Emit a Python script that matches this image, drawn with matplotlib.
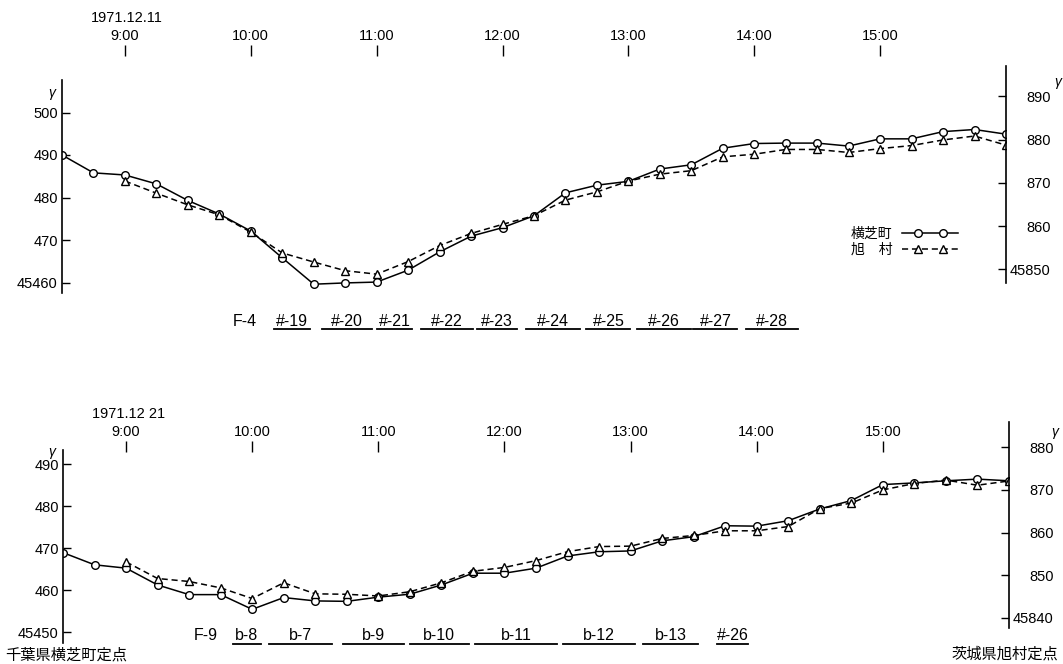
import matplotlib.pyplot as plt
import matplotlib.transforms as mtransforms
from matplotlib.lines import Line2D
from matplotlib.legend_handler import HandlerLine2D, HandlerTuple

plt.rcParams["font.family"] = ["Liberation Sans", "Noto Sans CJK JP"]

W, H = 1063, 664

# observation times (every 15 min)
times = ["8:30", "8:45", "9:00", "9:15", "9:30", "9:45", "10:00", "10:15",
         "10:30", "10:45", "11:00", "11:15", "11:30", "11:45", "12:00", "12:15",
         "12:30", "12:45", "13:00", "13:15", "13:30", "13:45", "14:00", "14:15",
         "14:30", "14:45", "15:00", "15:15", "15:30", "15:45", "16:00"]

# F-4, 1971.12.11  (left: 横芝町 454xx γ, right: 旭村 458xx γ)
f4_yokoshiba = [490.0, 485.8, 485.3, 483.2, 479.3, 476.1, 472.1, 465.8, 459.6,
                459.9, 460.1, 462.9, 467.2, 470.9, 472.9, 475.7, 481.1, 482.9,
                483.8, 486.7, 487.7, 491.6, 492.7, 492.8, 492.8, 492.1, 493.8,
                493.8, 495.5, 496.0, 494.9]
f4_asahi = [870.4, 867.6, 864.9, 862.6, 858.6, 853.8, 851.7, 849.7, 848.9,
            851.8, 855.5, 858.3, 860.4, 862.4, 866.0, 867.9, 870.4, 872.0,
            872.8, 876.0, 876.6, 877.7, 877.7, 877.0, 877.9, 878.6, 879.9,
            880.8, 878.7]

# F-9, 1971.12.21
f9_yokoshiba = [468.9, 466.0, 465.2, 461.2, 458.9, 458.9, 455.4, 458.2, 457.4,
                457.3, 458.3, 459.0, 461.2, 464.0, 464.0, 465.2, 468.1, 469.1,
                469.3, 471.7, 472.7, 475.3, 475.2, 476.5, 479.3, 481.3, 485.1,
                485.5, 486.0, 486.4, 486.0]
f9_asahi = [853.1, 849.2, 848.5, 847.0, 844.5, 848.2, 845.6, 845.5, 845.1,
            846.1, 848.2, 850.9, 851.8, 853.4, 855.5, 856.7, 856.8, 858.6,
            859.3, 860.4, 860.4, 861.4, 865.6, 866.9, 870.0, 871.5, 872.3,
            871.1, 872.1]

# flight lines
f4_lines = ["#-19", "#-20", "#-21", "#-22", "#-23", "#-24", "#-25", "#-26", "#-27", "#-28"]
f4_starts = ["10:11", "10:34", "11:00", "11:21", "11:48", "12:11", "12:40", "13:04", "13:31", "13:56"]
f4_ends = ["10:28", "10:58", "11:17", "11:46", "12:07", "12:37", "13:01", "13:30", "13:52", "14:21"]

f9_lines = ["b-8", "b-7", "b-9", "b-10", "b-11", "b-12", "b-13", "#-26"]
f9_starts = ["9:51", "10:08", "10:43", "11:15", "11:46", "12:28", "13:06", "13:41"]
f9_ends = ["10:04", "10:38", "11:12", "11:43", "12:25", "13:02", "13:32", "13:56"]

hour_ticks = [9, 10, 11, 12, 13, 14, 15]
hour_labels = ["9:00", "10:00", "11:00", "12:00", "13:00", "14:00", "15:00"]

DASH = (0, (4, 2.5))


def hours(t):
    h, m = t.split(":")
    return int(h) + int(m) / 60


def fx(px):
    return px / W


def fy(px):
    return 1 - px / H


fig = plt.figure(figsize=(W / 100, H / 100), dpi=100)


def panel(box, lref, rref, lbounds, rbounds, tick_px, ytl, ytr, yl, yr,
          date, date_xy, flight, lines, starts, ends, lab_px, line_px):
    l, t, r, b = box
    ax = fig.add_axes([fx(l), fy(b), fx(r) - fx(l), fy(t) - fy(b)])
    ax2 = ax.twinx()
    for a, ref in ((ax, lref), (ax2, rref)):
        v0, p0, s = ref
        a.set_ylim(v0 - (b - p0) / s, v0 + (p0 - t) / s)
    ax.set_xlim(8.5, 16.0)
    x = [hours(tt) for tt in times]

    ax.plot(x, yl, color="black", lw=1.1, marker="o", ms=5.5,
            mfc="white", mec="black", mew=1)
    ax2.plot(x[2:], yr, color="black", lw=1.1, ls=DASH,
             marker="^", ms=6, mfc="white", mec="black", mew=1)

    for a in (ax, ax2):
        a.spines[["top", "bottom"]].set_visible(False)
        a.set_xticks([])
    ax.spines["right"].set_visible(False)
    ax2.spines["left"].set_visible(False)
    ax.spines["left"].set_bounds(*lbounds)
    ax2.spines["right"].set_bounds(*rbounds)
    ax.spines["left"].set_linewidth(1.2)
    ax2.spines["right"].set_linewidth(1.2)

    ax.set_yticks(ytl[0], ytl[1])
    ax.tick_params(axis="y", direction="in", length=6, width=1, pad=3, labelsize=10.5)
    ax2.set_yticks(ytr[0], ytr[1])
    ax2.tick_params(axis="y", direction="in", length=6, width=1, pad=32, labelsize=10.5)
    for lbl in ax2.get_yticklabels():
        lbl.set_horizontalalignment("right")

    sec = ax.secondary_xaxis((b - tick_px) / (b - t))
    sec.set_xticks(hour_ticks, hour_labels)
    sec.tick_params(direction="out", length=8, width=1, pad=1, labelsize=10.5)
    for sp in sec.spines.values():
        sp.set_visible(False)

    fig.text(fx(date_xy[0]), fy(date_xy[1]), date, ha="center", va="center", fontsize=10.5)

    tr = mtransforms.blended_transform_factory(ax.transData, fig.transFigure)
    fig.text(fx(flight[1]), fy(lab_px), flight[0], ha="left", va="center", fontsize=11.5)
    for name, s0, s1 in zip(lines, starts, ends):
        h0, h1 = hours(s0), hours(s1)
        ax.text((h0 + h1) / 2, fy(lab_px), name, transform=tr, ha="center",
                va="center", fontsize=11.5)
        ax.plot([h0, h1], [fy(line_px)] * 2, transform=tr, color="black",
                lw=1.3, clip_on=False)
    return ax, ax2


ax, ax2 = panel(
    (62, 40, 1006, 300), (490, 155, 4.25), (880, 139.5, 4.33),
    (457.5, 507.6), (846.9, 897.0), 56,
    ([500, 490, 480, 470, 460], ["500", "490", "480", "470", "45460"]),
    ([890, 880, 870, 860, 850], ["890", "880", "870", "860", "45850"]),
    f4_yokoshiba, f4_asahi, "1971.12.11", (127, 18), ("F-4", 233),
    f4_lines, f4_starts, f4_ends, 321, 329)

# legend: full-width line with two markers inset
line1 = Line2D([], [], color="black", lw=1.1)
mk1 = Line2D([], [], ls="none", marker="o", ms=5.5, mfc="white", mec="black", mew=1)
line2 = Line2D([], [], color="black", lw=1.1, ls=DASH)
mk2 = Line2D([], [], ls="none", marker="^", ms=6, mfc="white", mec="black", mew=1)
hm = {line1: HandlerLine2D(marker_pad=0), line2: HandlerLine2D(marker_pad=0),
      mk1: HandlerLine2D(marker_pad=1.1), mk2: HandlerLine2D(marker_pad=1.1),
      tuple: HandlerTuple(ndivide=1)}
ax2.legend([(line1, mk1), (line2, mk2)], ["横芝町", "旭\u3000村"], loc="upper left",
           bbox_to_anchor=(fx(851), fy(227)), bbox_transform=fig.transFigure,
           frameon=False, markerfirst=False, numpoints=2, handlelength=4,
           handletextpad=0.7, labelspacing=0.1, borderpad=0, borderaxespad=0,
           fontsize=10, handler_map=hm)

panel(
    (63, 415, 1009, 648), (490, 464, 4.2), (880, 447.3, 4.26),
    (447.4, 493.3), (837.6, 885.9), 452,
    ([490, 480, 470, 460, 450], ["490", "480", "470", "460", "45450"]),
    ([880, 870, 860, 850, 840], ["880", "870", "860", "850", "45840"]),
    f9_yokoshiba, f9_asahi, "1971.12 21", (129, 414), ("F-9", 194),
    f9_lines, f9_starts, f9_ends, 636, 644)

for gx, gy in ((52, 93), (1058, 82), (52, 452), (1055, 432)):
    fig.text(fx(gx), fy(gy), "γ", ha="center", va="center", fontsize=10, style="italic")

fig.text(fx(5), fy(655), "千葉県横芝町定点", ha="left", va="center", fontsize=11)
fig.text(fx(1058), fy(654), "茨城県旭村定点", ha="right", va="center", fontsize=11)

fig.savefig("out.png", dpi=100)
